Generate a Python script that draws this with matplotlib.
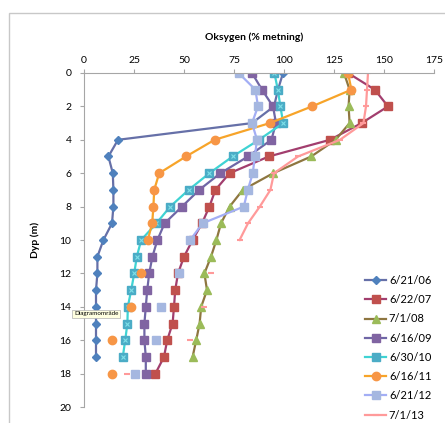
import numpy as np
import matplotlib
matplotlib.use("Agg")
import matplotlib.pyplot as plt
from matplotlib.patches import Rectangle

nan = np.nan
depth = list(range(0, 19))

s_062106 = [99.5, 97, 95, 84, 17, 12.2, 14.4, 14.7, 14.7, 14, 9.7, 6.7, 6.7, 6, 6, 6, 6, 6, nan]
s_062207 = [132, 145.4, 152, 138.8, 123, 92.4, 72.8, 65.7, 62.7, 59, 54.3, 50, 47, 45.6, 45, 44.3, 41.6, 40, 35.7]
s_070108 = [130, 132.8, 132.3, 132.8, 125.8, 113.6, 94.6, 79.4, 72.8, 68.5, 66.2, 63.5, 60.2, 61.5, 58.6, 57.8, 56.1, 54.3, nan]
s_061609 = [84, 89, 94.5, 96, 93.7, 82, 68.2, 57.6, 49, 40.3, 36.7, 34.2, 32.6, 31.6, 30.9, 30.2, 30.2, 30.9, 30.9]
s_063010 = [95.2, 96.9, 98.2, 99.6, 87.5, 74.3, 62.7, 52.3, 43.1, 36.2, 28.6, 26.4, 25.1, 23.6, 21.9, 21.7, 20.6, 19.4, nan]
s_061611 = [132, 133.7, 114, 92.9, 65.3, 51, 37.6, 35.1, 34.7, 34.1, 31.9, nan, 28.6, nan, 23.6, nan, 14.2, nan, 14.2]
s_062112 = [77.3, 85.7, 87, 84, 86.5, 85.4, 84.4, 81.9, 79.9, 59.3, 53.1, nan, 47.3, nan, 38.3, nan, 35.9, nan, 25.6]
s_070113 = [142, 141.5, 141, 139.7, 128, 107, 95, 93.2, 87.9, 82, 77.8, nan, 63.7, nan, 60.2, nan, 52.8, nan, 21.4]

labels = ["6/21/06", "6/22/07", "7/1/08", "6/16/09", "6/30/10", "6/16/11", "6/21/12", "7/1/13"]
xticks = [0, 25, 50, 75, 100, 125, 150, 175]
yticks = [0, 2, 4, 6, 8, 10, 12, 14, 16, 18, 20]

plt.rcParams['font.family'] = ['Lato', 'DejaVu Sans']

W, H = 445, 423
fig = plt.figure(figsize=(W / 100, H / 100), dpi=100)
ax = fig.add_axes([84 / W, 1 - 407 / H, 350 / W, 334 / H])

styles = [
    dict(color='#6670A8', marker='D', mfc='#4F81BD', mec='#4F81BD', ms=4),
    dict(color='#A23E6E', marker='s', mfc='#C0504D', mec='#C0504D', ms=5.5),
    dict(color='#8E7640', marker='^', mfc='#9BBB59', mec='#9BBB59', ms=5.5),
    dict(color='#6F66A6', marker='s', mfc='#8064A2', mec='#8064A2', ms=5.5),
    dict(color='#3FD3D3', marker='s', mfc='#4BACC6', mec='#4BACC6', ms=5.5),
    dict(color='#F7A429', marker='o', mfc='#F79646', mec='#F79646', ms=6),
    dict(color='#A3AEF5', marker='s', mfc='#A5B7E0', mec='#A5B7E0', ms=5.5),
    dict(color='#FF9A9A', marker='_', mfc='#FF9A9A', mec='#FF9A9A', ms=4, mew=1.5),
]
series = [s_062106, s_062207, s_070108, s_061609, s_063010, s_061611, s_062112, s_070113]

for vals, lab, st in zip(series, labels, styles):
    ax.plot(vals, depth, lw=1.6, label=lab, **st)
    if lab == "6/30/10":
        ax.plot(vals, depth, lw=0, marker='x', ms=3.5, mec='#7FE0E8', mew=0.8)

ax.set_xlim(0, 175)
ax.set_ylim(20, 0)
ax.xaxis.tick_top()
ax.set_xticks(xticks)
ax.set_yticks(yticks)
for sp in ['right', 'bottom']:
    ax.spines[sp].set_visible(False)
for sp in ['top', 'left']:
    ax.spines[sp].set_color('#A6A6A6')
    ax.spines[sp].set_linewidth(0.8)
ax.tick_params(axis='both', labelsize=7.5, color='#A6A6A6', length=3, width=0.8, pad=2)
ax.tick_params(axis='x', pad=3)
ax.tick_params(axis='y', pad=6)

fig.text(254 / W, 1 - 37 / H, "Oksygen (% metning)", ha='center', va='center',
         fontsize=7.5, fontweight='bold')
fig.text(35 / W, 1 - 240 / H, "Dyp (m)", ha='center', va='center', rotation=90,
         fontsize=7.5, fontweight='bold')

leg = fig.legend(loc='upper left', bbox_to_anchor=(365 / W, 1 - 275 / H), frameon=False,
                 fontsize=8, handlelength=1.9, handletextpad=0.25, labelspacing=0.74,
                 borderaxespad=0, borderpad=0)

fig.text(74 / W, 1 - 314 / H, "Diagramområde", ha='left', va='center', fontsize=4.5,
         bbox=dict(boxstyle='square,pad=0.25', fc='#FFFFE0', ec='#B0B0B0', lw=0.5))

fig.add_artist(Rectangle((9 / W, -0.1), 1.2, (1 - 13 / H) + 0.1, transform=fig.transFigure,
                         fill=False, edgecolor='#C8C8C8', lw=1))

fig.savefig("out.png", dpi=100)
